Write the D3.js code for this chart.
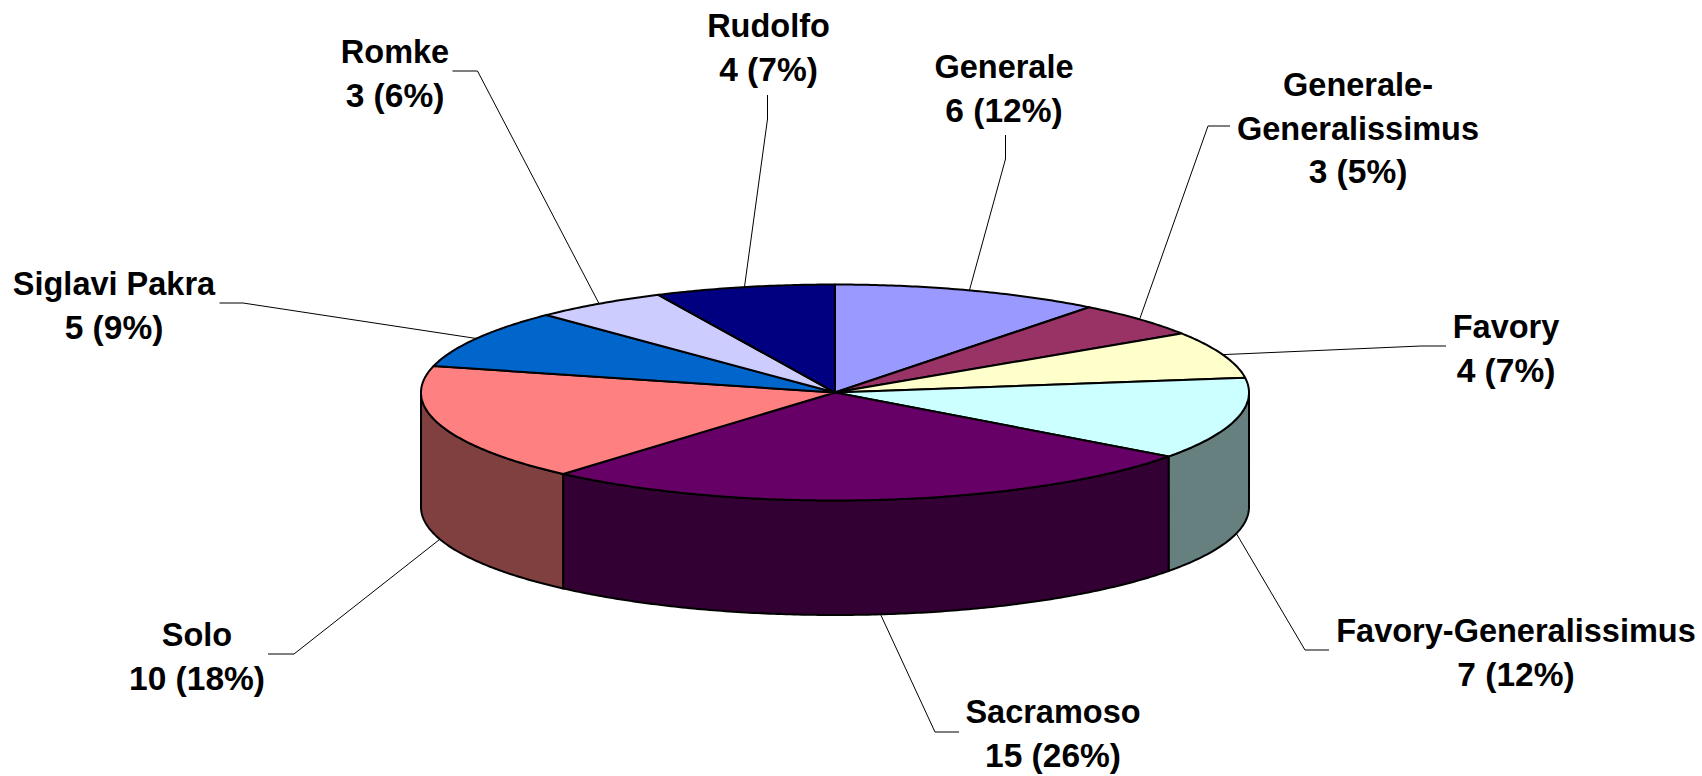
<!DOCTYPE html>
<html>
<head>
<meta charset="utf-8">
<script src="https://cdn.jsdelivr.net/npm/d3@7"></script>
<style>
  html, body { margin: 0; padding: 0; background: #fff; overflow: hidden; }
  svg { display: block; }
</style>
</head>
<body>
<div id="vis"></div>
<script>
// values, clockwise from 12 o'clock
const names = ["Generale", "Generale-|Generalissimus", "Favory", "Favory-Generalissimus", "Sacramoso", "Solo", "Siglavi Pakra", "Romke", "Rudolfo"];
const counts = [6, 3, 4, 7, 15, 10, 5, 3, 4];
const percents = [12, 5, 7, 12, 26, 18, 9, 6, 7];
const colors = ["#9999FF", "#993366", "#FFFFCC", "#CCFFFF", "#660066", "#FF8080", "#0066CC", "#CCCCFF", "#000080"];

// label placement: text centre, first baseline, then the leader elbow and where it leaves the label
const labelX = [1004, 1358, 1506, 1516, 1053, 197, 114, 395, 768.5];
const labelY = [78, 96, 338, 642, 723, 646, 295, 63, 37];
const elbows = [[1005.5, 159], [1208, 126], [1421, 346], [1305, 650], [935, 732], [294, 654], [243, 303], [477.5, 71], [767.5, 119]];
const stubs = [[1005.5, 135], [1230, 126], [1446, 346], [1329, 650], [959, 732], [268, 654], [219.5, 303], [452.5, 71], [767.5, 95]];

const width = 1702, height = 776;
const cx = 835, cy = 392.5, rx = 414, ry = 108, depth = 114.5;
const lineGap = 43.5;
const font = `"Liberation Sans", Arial, Helvetica, sans-serif`;

const svg = d3.select("#vis").append("svg")
    .attr("width", width)
    .attr("height", height)
    .attr("viewBox", `0 0 ${width} ${height}`);

const x = d3.scaleLinear().domain([-1, 1]).range([cx - rx, cx + rx]);
const y = d3.scaleLinear().domain([-1, 1]).range([cy - ry, cy + ry]);

const pie = d3.pie().sort(null).value(d => d);
const slices = pie(counts);

// angle 0 is up, going clockwise, same as d3.pie
function topPoint(a) {
    return [x(Math.sin(a)), y(-Math.cos(a))];
}
function sidePoint(a) {
    const p = topPoint(a);
    return [p[0], p[1] + depth];
}
function anglesBetween(a0, a1) {
    const n = Math.max(2, Math.ceil((a1 - a0) / 0.01));
    return d3.range(n + 1).map(i => a0 + (a1 - a0) * i / n);
}

const line = d3.line();

// side walls, only the part of each slice facing us (quarter past to quarter to)
const wallStart = Math.PI / 2, wallEnd = Math.PI * 1.5;
svg.append("g").selectAll("path")
    .data(slices.filter(d => d.endAngle > wallStart && d.startAngle < wallEnd))
    .join("path")
    .attr("d", d => {
        const angles = anglesBetween(Math.max(d.startAngle, wallStart), Math.min(d.endAngle, wallEnd));
        return line(angles.map(topPoint).concat(angles.slice().reverse().map(sidePoint))) + "Z";
    })
    .attr("fill", d => {
        const c = d3.rgb(colors[d.index]);
        return d3.rgb(c.r / 2, c.g / 2, c.b / 2).formatHex();
    })
    .attr("stroke", "#000")
    .attr("stroke-width", 2)
    .attr("stroke-linejoin", "round");

// top faces
svg.append("g").selectAll("path")
    .data(slices)
    .join("path")
    .attr("d", d => line([[x(0), y(0)]].concat(anglesBetween(d.startAngle, d.endAngle).map(topPoint))) + "Z")
    .attr("fill", d => colors[d.index])
    .attr("stroke", "#000")
    .attr("stroke-width", 2)
    .attr("stroke-linejoin", "round");

// leader lines run from the middle of the slice's outer edge up to the label
svg.append("g").selectAll("path")
    .data(slices)
    .join("path")
    .attr("d", d => {
        const mid = (d.startAngle + d.endAngle) / 2;
        const front = mid > wallStart && mid < wallEnd;
        return line([front ? sidePoint(mid) : topPoint(mid), elbows[d.index], stubs[d.index]]);
    })
    .attr("fill", "none")
    .attr("stroke", "#000")
    .attr("stroke-width", 1);

// labels, the count row runs a little bigger than the name row in the picture
const labels = svg.append("g")
    .style("font-family", font)
    .style("font-weight", "bold")
    .attr("fill", "#000")
    .attr("text-anchor", "middle");

names.forEach((name, i) => {
    const nameRows = name.split("|");
    const rows = nameRows.concat(`${counts[i]} (${percents[i]}%)`);
    rows.forEach((row, j) => {
        labels.append("text")
            .attr("x", labelX[i])
            .attr("y", labelY[i] + j * lineGap)
            .style("font-size", j < nameRows.length ? "32.5px" : "33.5px")
            .text(row);
    });
});
</script>
</body>
</html>
